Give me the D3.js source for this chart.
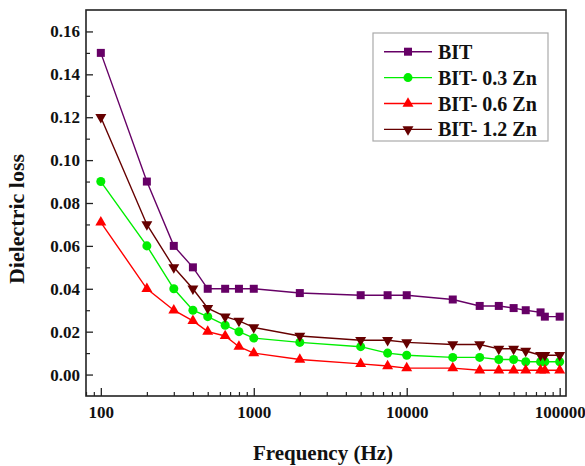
<!DOCTYPE html>
<html>
<head>
<meta charset="utf-8">
<script src="https://cdn.jsdelivr.net/npm/d3@7/dist/d3.min.js"></script>
<style>
  html, body { margin: 0; padding: 0; background: #fff; }
  svg { display: block; }
  text { font-family: "Liberation Serif", "Times New Roman", serif; font-weight: bold; fill: #111; }
</style>
</head>
<body>
<svg id="chart" width="585" height="466"></svg>
<script>
// ---- data ----
const frequency = [100, 200, 300, 400, 500, 650, 800, 1000, 2000, 5000, 7500, 10000, 20000, 30000, 40000, 50000, 60000, 75000, 80000, 100000];
const seriesNames = ["BIT", "BIT- 0.3 Zn", "BIT- 0.6 Zn", "BIT- 1.2 Zn"];
const lossBIT   = [0.150, 0.090, 0.060, 0.050, 0.040, 0.040, 0.040, 0.040, 0.038, 0.037, 0.037, 0.037, 0.035, 0.032, 0.032, 0.031, 0.030, 0.029, 0.027, 0.027];
const lossZn03  = [0.090, 0.060, 0.040, 0.030, 0.027, 0.023, 0.020, 0.017, 0.015, 0.013, 0.010, 0.009, 0.008, 0.008, 0.007, 0.007, 0.006, 0.006, 0.006, 0.006];
const lossZn06  = [0.071, 0.040, 0.030, 0.025, 0.020, 0.018, 0.013, 0.010, 0.007, 0.005, 0.004, 0.003, 0.003, 0.002, 0.002, 0.002, 0.002, 0.002, 0.002, 0.002];
const lossZn12  = [0.120, 0.070, 0.050, 0.040, 0.031, 0.027, 0.025, 0.022, 0.018, 0.016, 0.016, 0.015, 0.014, 0.014, 0.012, 0.012, 0.011, 0.009, 0.009, 0.009];
const xTickValues = [100, 1000, 10000, 100000];
const yTickValues = [0.00, 0.02, 0.04, 0.06, 0.08, 0.10, 0.12, 0.14, 0.16];
const yMinorValues = [0.01, 0.03, 0.05, 0.07, 0.09, 0.11, 0.13, 0.15];
const xTitle = "Frequency (Hz)";
const yTitle = "Dielectric loss";

// ---- layout ----
const svg = d3.select("#chart");
const L = 86, R = 566, T = 10, B = 396;
const x = d3.scaleLog().domain([80, 110000]).range([L, R]);
const y = d3.scaleLinear().domain([-0.01, 0.17]).range([B, T]);

const styles = [
  { color: "#660066", symbol: d3.symbolSquare, size: 64, rot: 0 },
  { color: "#00ee00", symbol: d3.symbolCircle, size: 64, rot: 0 },
  { color: "#ff0000", symbol: d3.symbolTriangle, size: 52, rot: 0 },
  { color: "#660000", symbol: d3.symbolTriangle, size: 52, rot: 180 }
];
const allSeries = [lossBIT, lossZn03, lossZn06, lossZn12];

// minor x ticks
const xMinor = [];
[10, 100, 1000, 10000].forEach(d => { for (let k = 2; k <= 9; k++) { const v = d * k; if (v >= 80 && v <= 110000 && !xTickValues.includes(v)) xMinor.push(v); } });

// axes
const gx = svg.append("g").attr("transform", `translate(0,${B})`)
  .call(d3.axisBottom(x).tickValues(xTickValues).tickFormat(d3.format("d")).tickSizeInner(-8).tickSizeOuter(0).tickPadding(10));
gx.select(".domain").remove();
gx.selectAll("text").style("font-size", "17px").style("font-family", "Liberation Serif, serif").style("font-weight", "bold").attr("fill", "#111");
gx.selectAll("line").attr("stroke", "#222").attr("stroke-width", 1.3);

const gxm = svg.append("g").attr("transform", `translate(0,${B})`)
  .call(d3.axisBottom(x).tickValues(xMinor).tickFormat("").tickSizeInner(-4).tickSizeOuter(0));
gxm.select(".domain").remove();
gxm.selectAll("line").attr("stroke", "#222").attr("stroke-width", 1.2);

const gy = svg.append("g").attr("transform", `translate(${L},0)`)
  .call(d3.axisLeft(y).tickValues(yTickValues).tickFormat(d3.format(".2f")).tickSizeInner(-7).tickSizeOuter(0).tickPadding(6));
gy.select(".domain").remove();
gy.selectAll("text").style("font-size", "17px").style("font-family", "Liberation Serif, serif").style("font-weight", "bold").attr("fill", "#111");
gy.selectAll("line").attr("stroke", "#222").attr("stroke-width", 1.3);

const gym = svg.append("g").attr("transform", `translate(${L},0)`)
  .call(d3.axisLeft(y).tickValues(yMinorValues).tickFormat("").tickSizeInner(-4).tickSizeOuter(0));
gym.select(".domain").remove();
gym.selectAll("line").attr("stroke", "#222").attr("stroke-width", 1.2);

// frame
svg.append("rect").attr("x", L).attr("y", T).attr("width", R - L).attr("height", B - T)
  .attr("fill", "none").attr("stroke", "#222").attr("stroke-width", 1.6);

// series
const line = d3.line().x((d, i) => x(frequency[i])).y(d => y(d));
allSeries.forEach((vals, si) => {
  const st = styles[si];
  svg.append("path").datum(vals).attr("d", line).attr("fill", "none")
    .attr("stroke", st.color).attr("stroke-width", 1.4);
  svg.append("g").selectAll("path").data(vals).join("path")
    .attr("d", d3.symbol().type(st.symbol).size(st.size))
    .attr("transform", (d, i) => `translate(${x(frequency[i])},${y(d)}) rotate(${st.rot})`)
    .attr("fill", st.color);
});

// legend
const lg = svg.append("g");
lg.append("rect").attr("x", 373).attr("y", 33).attr("width", 175).attr("height", 108)
  .attr("fill", "#fff").attr("stroke", "#aaa").attr("stroke-width", 1.2);
seriesNames.forEach((name, i) => {
  const st = styles[i];
  const cy = 51.7 + i * 25.9;
  lg.append("line").attr("x1", 384).attr("x2", 432).attr("y1", cy).attr("y2", cy)
    .attr("stroke", st.color).attr("stroke-width", 1.4);
  lg.append("path").attr("d", d3.symbol().type(st.symbol).size(st.size)())
    .attr("transform", `translate(408,${cy}) rotate(${st.rot})`).attr("fill", st.color);
  lg.append("text").attr("x", 438).attr("y", cy + 7).style("font-size", "20px").text(name);
});

// titles
svg.append("text").attr("x", 323).attr("y", 460).attr("text-anchor", "middle")
  .style("font-size", "21px").text(xTitle);
svg.append("text").attr("transform", "translate(24,219) rotate(-90)").attr("text-anchor", "middle")
  .style("font-size", "22px").text(yTitle);
</script>
</body>
</html>
